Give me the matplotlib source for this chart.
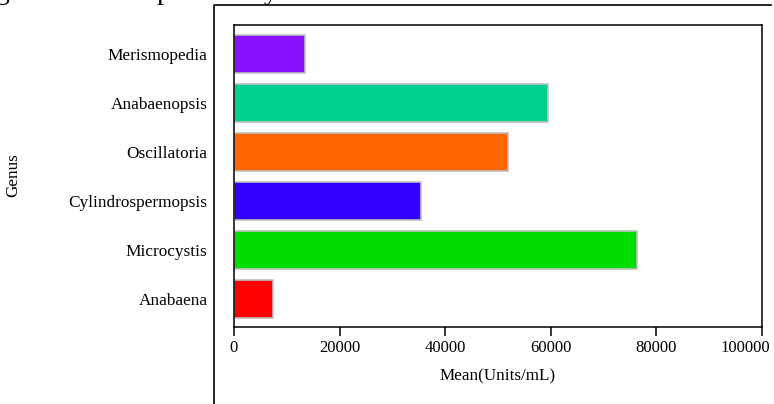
import matplotlib
matplotlib.use("Agg")
import matplotlib.pyplot as plt
import matplotlib.transforms as mtransforms
from matplotlib.lines import Line2D

plt.rcParams['font.family'] = ['Liberation Serif', 'DejaVu Serif']

# data, bottom to top
genus = ["Anabaena", "Microcystis", "Cylindrospermopsis",
         "Oscillatoria", "Anabaenopsis", "Merismopedia"]
mean_units = [7400, 76400, 35400, 51800, 59500, 13500]
bar_colors = ["#ff0000", "#00dd00", "#3300ff", "#ff6600", "#00d090", "#8811ff"]
xticks = [0, 20000, 40000, 60000, 80000, 100000]

W, H = 774, 404
fig = plt.figure(figsize=(W / 100, H / 100), dpi=100)
ax = fig.add_axes([234 / W, 1 - 327 / H, (762 - 234) / W, (327 - 25) / H])

ax.barh(range(len(genus)), mean_units, height=0.78, color=bar_colors,
        edgecolor="#c0c0c0", linewidth=1.2)

ax.set_xlim(0, 100000)
ax.set_ylim(-0.58, 5.6)
ax.set_xticks(xticks)
ax.set_xticklabels([str(t) for t in xticks], fontsize=12)
ax.set_yticks(range(len(genus)))
ax.set_yticklabels(genus, fontsize=12.4)
ax.tick_params(axis="x", direction="out", length=6.5, width=1.1, pad=3)
ax.tick_params(axis="y", length=0, pad=19)
for s in ax.spines.values():
    s.set_linewidth(1.1)
    s.set_color("black")
ax.set_xlabel("Mean(Units/mL)", fontsize=12.3, labelpad=9)

# last tick label is pulled in so it stays inside the picture
last = ax.get_xticklabels()[-1]
last.set_horizontalalignment("right")
last.set_transform(last.get_transform() +
                   mtransforms.ScaledTranslation(8 / 100, 0, fig.dpi_scale_trans))

fig.text(13 / W, 1 - 175 / H, "Genus", rotation=90, fontsize=12.3,
         ha="center", va="center")

# outer frame (cut off by the screenshot)
fig.add_artist(Line2D([214 / W, 214 / W, 771 / W], [0, 1 - 5 / H, 1 - 5 / H],
                      transform=fig.transFigure, color="black", linewidth=1.2))

# title, mostly cropped above the image
fig.text(-70 / W, 1 + 1 / H, "Average Cell Count per Site by Genus",
         fontsize=20, ha="left", va="baseline")

fig.savefig("out.png", dpi=100)
